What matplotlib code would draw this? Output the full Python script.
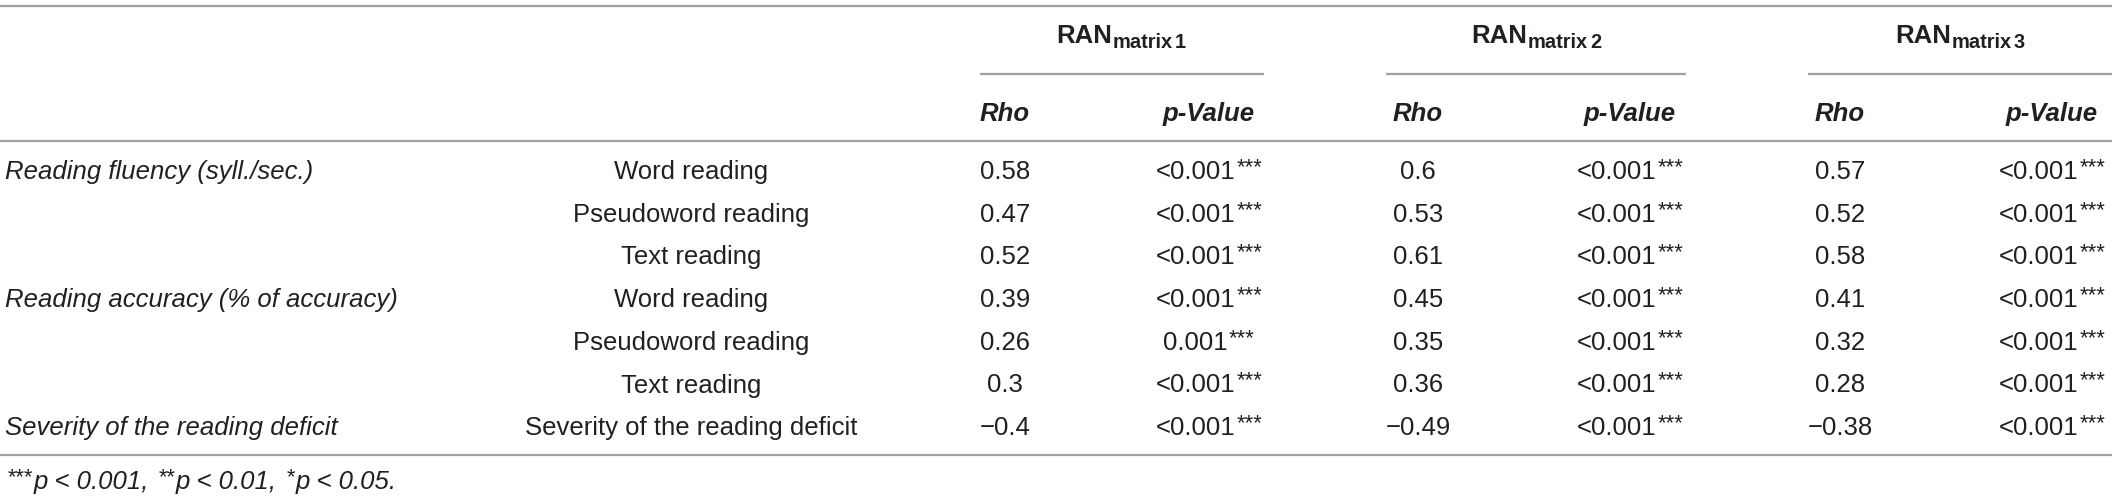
import matplotlib
matplotlib.use('Agg')
import matplotlib.pyplot as plt

# table content
groups = ['Reading fluency (syll./sec.)', '', '',
          'Reading accuracy (% of accuracy)', '', '',
          'Severity of the reading deficit']
measures = ['Word reading', 'Pseudoword reading', 'Text reading',
            'Word reading', 'Pseudoword reading', 'Text reading',
            'Severity of the reading deficit']
matrices = ['1', '2', '3']
rho_m1 = [0.58, 0.47, 0.52, 0.39, 0.26, 0.3, -0.4]
rho_m2 = [0.6, 0.53, 0.61, 0.45, 0.35, 0.36, -0.49]
rho_m3 = [0.57, 0.52, 0.58, 0.41, 0.32, 0.28, -0.38]
p_m1 = ['<0.001', '<0.001', '<0.001', '<0.001', '0.001', '<0.001', '<0.001']
p_m2 = ['<0.001'] * 7
p_m3 = ['<0.001'] * 7
stars = '***'
footnote = [('***', 'p < 0.001,'), ('**', 'p < 0.01,'), ('*', 'p < 0.05.')]

FONT = 'Liberation Sans'
TXT = '#231f20'
LINE = '#a0a0a0'
FS = 18.5

W, H = 2117, 500
fig = plt.figure(figsize=(W / 100, H / 100), dpi=100)
ax = fig.add_axes([0, 0, 1, 1])
ax.set_xlim(0, W)
ax.set_ylim(H, 0)
ax.axis('off')
renderer = fig.canvas.get_renderer()


def runs(x, y, parts, ha='left'):
    # parts: (text, fontsize, raise_px, style, weight, gap_before)
    items = []
    for s, fs, dy, st, wt, gap in parts:
        t = ax.text(0, y - dy, s, fontsize=fs, style=st, weight=wt,
                    family=FONT, color=TXT, va='baseline', ha='left')
        w = t.get_window_extent(renderer).width
        items.append((t, w, gap))
    total = sum(w + g for _, w, g in items)
    cx = x - total / 2 if ha == 'center' else x
    for t, w, g in items:
        cx += g
        t.set_x(cx)
        cx += w


def hline(x0, x1, y):
    ax.plot([x0, x1], [y, y], color=LINE, lw=1.6, solid_capstyle='butt')


def fmt(v):
    return ('%g' % v).replace('-', '\u2212')


# rules
hline(0, 2112, 6)
hline(0, 2112, 141)
hline(0, 2112, 455)

group_x = [1121, 1536, 1960]
group_lines = [(980, 1264), (1386, 1686), (1808, 2112)]
rho_x = [1005, 1418, 1840]
p_x = [1209, 1630, 2052]

for gx, (a, b), m in zip(group_x, group_lines, matrices):
    runs(gx, 43, [('RAN', FS, 0, 'normal', 'bold', 0),
                  ('matrix', FS * 0.78, -5, 'normal', 'bold', 1),
                  (m, FS * 0.78, -5, 'normal', 'bold', 2)], ha='center')
    hline(a, b, 74)

for rx, px in zip(rho_x, p_x):
    ax.text(rx, 121, 'Rho', fontsize=FS, style='italic', weight='bold',
            family=FONT, color=TXT, ha='center', va='baseline')
    ax.text(px, 121, 'p-Value', fontsize=FS, style='italic', weight='bold',
            family=FONT, color=TXT, ha='center', va='baseline')

row_base = [179 + 42.7 * i for i in range(len(measures))]

for i, yb in enumerate(row_base):
    if groups[i]:
        ax.text(5, yb, groups[i], fontsize=FS, style='italic', family=FONT,
                color=TXT, ha='left', va='baseline')
    ax.text(691, yb, measures[i], fontsize=FS, family=FONT, color=TXT,
            ha='center', va='baseline')
    for rx, px, rho, pv in zip(rho_x, p_x, (rho_m1, rho_m2, rho_m3),
                               (p_m1, p_m2, p_m3)):
        ax.text(rx, yb, fmt(rho[i]), fontsize=FS, family=FONT, color=TXT,
                ha='center', va='baseline')
        runs(px, yb, [(pv[i], FS, 0, 'normal', 'normal', 0),
                      (stars, FS * 0.85, 6, 'normal', 'normal', 1)],
             ha='center')

parts = []
for k, (st, txt) in enumerate(footnote):
    parts.append((st, FS * 0.85, 6, 'italic', 'normal', 0 if k == 0 else 9))
    parts.append((txt, FS, 0, 'italic', 'normal', 1))
runs(7, 489, parts)

fig.savefig('out.png', dpi=100)
